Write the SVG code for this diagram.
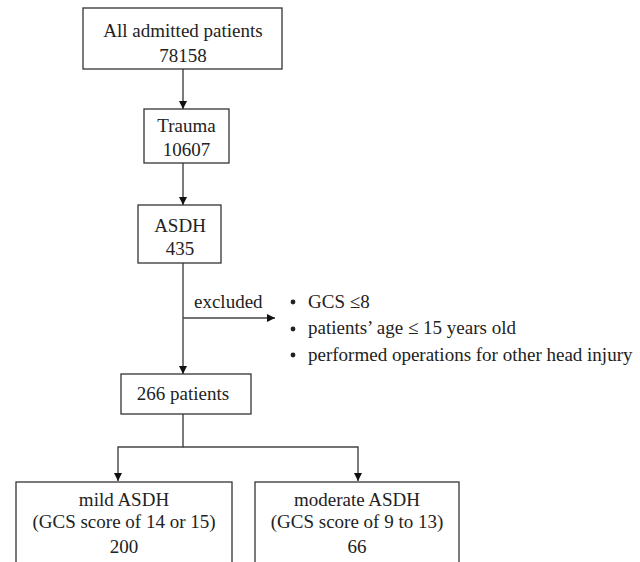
<svg xmlns="http://www.w3.org/2000/svg" width="640" height="562" viewBox="0 0 640 562" font-family="'Liberation Serif', 'Times New Roman', Times, serif">
<defs>
<style>
.box{fill:#fff;stroke:#333;stroke-width:1.3}
.ln{fill:none;stroke:#444;stroke-width:1.4}
text{font-family:'Liberation Serif','Times New Roman',Times,serif;font-size:19px;fill:#222}
.c{text-anchor:middle}
</style>
<marker id="ah" markerWidth="9" markerHeight="9" refX="8" refY="4" orient="auto" markerUnits="userSpaceOnUse">
<path d="M0,0 L8,4 L0,8 Z" fill="#111"/>
</marker>
</defs>
<rect width="640" height="562" fill="#fff"/>
<g id="connectors">
<line class="ln" x1="183" y1="69" x2="183" y2="109" marker-end="url(#ah)"/>
<line class="ln" x1="183" y1="163" x2="183" y2="205" marker-end="url(#ah)"/>
<line class="ln" x1="183" y1="263" x2="183" y2="374" marker-end="url(#ah)"/>
<line class="ln" x1="183" y1="318" x2="275" y2="318" marker-end="url(#ah)"/>
<polyline class="ln" points="183,414 183,447 118,447 118,481" marker-end="url(#ah)"/>
<polyline class="ln" points="183,447 358,447 358,481" marker-end="url(#ah)"/>
<text x="194" y="308">excluded</text>
</g>
<g id="all">
<rect class="box" x="83" y="8" width="199" height="61"/>
<text class="c" x="183" y="37">All admitted patients</text>
<text class="c" x="183" y="62">78158</text>
</g>
<g id="trauma">
<rect class="box" x="144" y="109" width="85" height="54"/>
<text class="c" x="186.5" y="132">Trauma</text>
<text class="c" x="186.5" y="156">10607</text>
</g>
<g id="asdh">
<rect class="box" x="138" y="205" width="83" height="58"/>
<text class="c" x="180" y="232">ASDH</text>
<text class="c" x="180" y="255">435</text>
</g>
<g id="exclusions">
<circle cx="293" cy="302" r="2.4" fill="#222"/>
<text x="308" y="308">GCS ≤8</text>
<circle cx="293" cy="329" r="2.4" fill="#222"/>
<text x="308" y="334">patients’ age ≤ 15 years old</text>
<circle cx="293" cy="355" r="2.4" fill="#222"/>
<text x="308" y="361">performed operations for other head injury</text>
</g>
<g id="p266">
<rect class="box" x="121" y="374" width="130" height="40"/>
<text class="c" x="183" y="400">266 patients</text>
</g>
<g id="mild">
<rect class="box" x="16" y="482" width="216" height="90"/>
<text class="c" x="124" y="506">mild ASDH</text>
<text class="c" x="124" y="528">(GCS score of 14 or 15)</text>
<text class="c" x="124" y="553">200</text>
</g>
<g id="moderate">
<rect class="box" x="255" y="482" width="204" height="90"/>
<text class="c" x="357" y="506">moderate ASDH</text>
<text class="c" x="357" y="528">(GCS score of 9 to 13)</text>
<text class="c" x="357" y="553">66</text>
</g>
</svg>
